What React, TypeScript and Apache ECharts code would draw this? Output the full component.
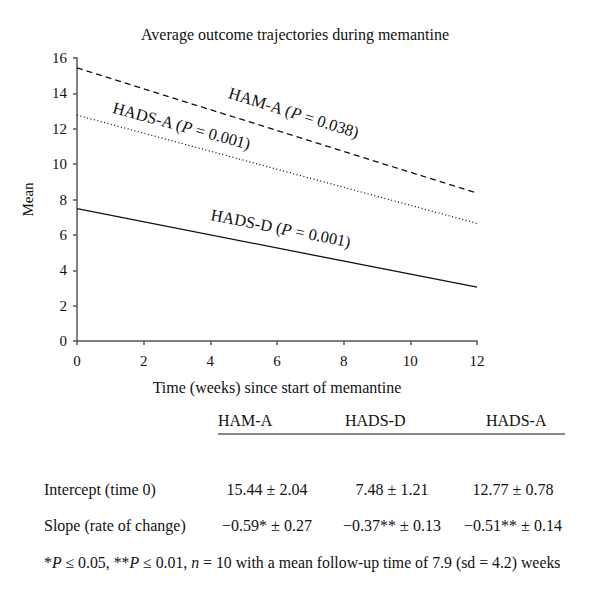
import React, { useEffect, useRef } from "react";
import * as echarts from "echarts";

const xTicks = [0, 2, 4, 6, 8, 10, 12];
const seriesNames = ["HAM-A", "HADS-A", "HADS-D"];
const intercepts = [15.44, 12.77, 7.48];
const endValues = [8.36, 6.65, 3.04];
const pValues = ["0.038", "0.001", "0.001"];
const labelAtX = [6.3, 3.0, 6.0];
const labelOffset = [22, 17, 20];
const lineTypes: any[] = [[6, 4], [1, 2.5], "solid"];

const tableHeaders = ["HAM-A", "HADS-D", "HADS-A"];
const rowLabels = ["Intercept (time 0)", "Slope (rate of change)"];
const interceptRow = ["15.44 ± 2.04", "7.48 ± 1.21", "12.77 ± 0.78"];
const slopeRow = ["−0.59* ± 0.27", "−0.37** ± 0.13", "−0.51** ± 0.14"];

const FONT = "'Liberation Serif', 'DejaVu Serif', serif";
const FS = 16;

export default function App() {
  const ref = useRef<HTMLDivElement>(null);
  useEffect(() => {
    if (!ref.current) return;
    const chart = echarts.init(ref.current, null, { renderer: "svg" });
    const series = seriesNames.map((n, i) => ({
      name: n,
      type: "line",
      data: [
        [xTicks[0], intercepts[i]],
        [xTicks[xTicks.length - 1], endValues[i]],
      ],
      symbol: "none",
      lineStyle: { color: "#111", width: 1.3, type: lineTypes[i] },
    }));
    chart.setOption({
      animation: false,
      title: {
        text: "Average outcome trajectories during memantine",
        left: 290,
        textAlign: "center",
        top: 21,
        textStyle: { fontFamily: FONT, fontSize: FS, fontWeight: "normal", color: "#111" },
      },
      grid: { left: 77, right: 123, top: 58, bottom: 262 },
      xAxis: {
        type: "value",
        min: 0,
        max: 12,
        interval: 2,
        name: "Time (weeks) since start of memantine",
        nameLocation: "middle",
        nameGap: 38,
        nameTextStyle: { fontFamily: FONT, fontSize: FS, color: "#111" },
        axisLine: { lineStyle: { color: "#555", width: 1.5 } },
        axisTick: { show: true, length: 4, lineStyle: { color: "#555", width: 1.5 } },
        axisLabel: { fontFamily: FONT, fontSize: 15, color: "#111", margin: 12 },
        splitLine: { show: false },
      },
      yAxis: {
        type: "value",
        min: 0,
        max: 16,
        interval: 2,
        name: "Mean",
        nameLocation: "middle",
        nameGap: 42,
        nameRotate: 90,
        nameTextStyle: { fontFamily: FONT, fontSize: 15, color: "#111" },
        axisLine: { show: true, lineStyle: { color: "#555", width: 1.5 } },
        axisTick: { show: true, length: 4, lineStyle: { color: "#555", width: 1.5 } },
        axisLabel: { fontFamily: FONT, fontSize: 15, color: "#111", margin: 10 },
        splitLine: { show: false },
      },
      series,
    });

    const graphics: any[] = [];
    seriesNames.forEach((n, i) => {
      const p0 = chart.convertToPixel({ gridIndex: 0 }, [0, intercepts[i]]) as number[];
      const p1 = chart.convertToPixel({ gridIndex: 0 }, [12, endValues[i]]) as number[];
      const ang = Math.atan2(p1[1] - p0[1], p1[0] - p0[0]);
      const yv = intercepts[i] + ((endValues[i] - intercepts[i]) * labelAtX[i]) / 12;
      const pc = chart.convertToPixel({ gridIndex: 0 }, [labelAtX[i], yv]) as number[];
      const off = labelOffset[i];
      const cx = pc[0] + Math.sin(ang) * off;
      const cy = pc[1] - Math.cos(ang) * off;
      graphics.push({
        type: "text",
        x: cx,
        y: cy,
        rotation: -ang,
        style: {
          text: `${n} ({i|P} = ${pValues[i]})`,
          fontFamily: FONT,
          fontSize: 16.5,
          fill: "#111",
          align: "center",
          verticalAlign: "middle",
          rich: { i: { fontStyle: "italic", fontFamily: FONT, fontSize: 16.5, fill: "#111" } },
        },
      });
    });

    const colX = [218, 345, 486];
    const valCx = [267, 392, 513];
    tableHeaders.forEach((h, i) => {
      graphics.push({
        type: "text",
        x: colX[i],
        y: 420,
        style: { text: h, fontFamily: FONT, fontSize: FS, fill: "#111", verticalAlign: "middle" },
      });
    });
    graphics.push({
      type: "line",
      shape: { x1: 218, y1: 434, x2: 565, y2: 434 },
      style: { stroke: "#111", lineWidth: 1.2 },
    });
    [interceptRow, slopeRow].forEach((row, r) => {
      const y = 489 + r * 36;
      graphics.push({
        type: "text",
        x: 44,
        y,
        style: { text: rowLabels[r], fontFamily: FONT, fontSize: FS, fill: "#111", verticalAlign: "middle" },
      });
      row.forEach((v, i) => {
        graphics.push({
          type: "text",
          x: valCx[i],
          y,
          style: { text: v, fontFamily: FONT, fontSize: FS, fill: "#111", align: "center", verticalAlign: "middle" },
        });
      });
    });
    graphics.push({
      type: "text",
      x: 44,
      y: 562,
      style: {
        text: "*{i|P} ≤ 0.05, **{i|P} ≤ 0.01, {i|n} = 10 with a mean follow-up time of 7.9 (sd = 4.2) weeks",
        fontFamily: FONT,
        fontSize: 15.8,
        fill: "#111",
        verticalAlign: "middle",
        rich: { i: { fontStyle: "italic", fontFamily: FONT, fontSize: 15.8, fill: "#111" } },
      },
    });
    chart.setOption({ graphic: { elements: graphics } });
    return () => chart.dispose();
  }, []);
  return (
    <div
      ref={ref}
      style={{ position: "absolute", left: 0, top: 0, width: 600, height: 603, background: "#fff" }}
    />
  );
}
